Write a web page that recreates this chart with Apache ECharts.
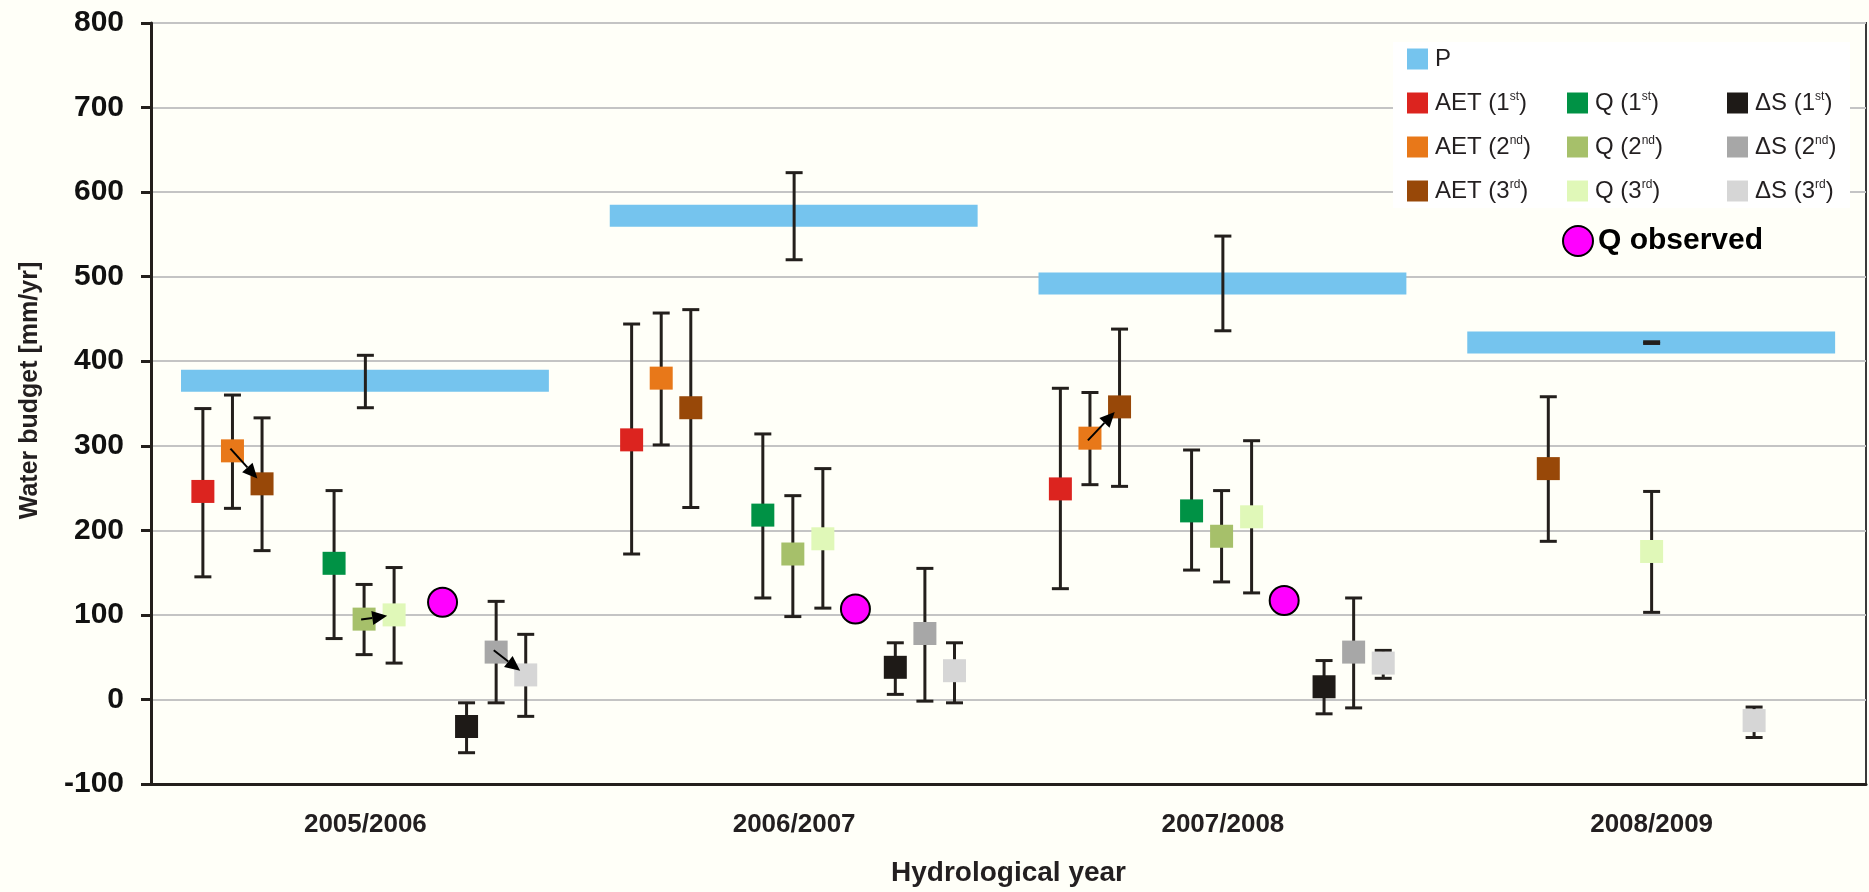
<!DOCTYPE html>
<html>
<head>
<meta charset="utf-8">
<title>Water budget per hydrological year</title>
<script src="https://cdn.jsdelivr.net/npm/echarts@6/dist/echarts.min.js"></script>
<style>
  html, body { margin: 0; padding: 0; background: #fffff8; }
  #chart { width: 1869px; height: 892px; }
</style>
</head>
<body>
<div id="chart"></div>
<script>
const years = ["2005/2006", "2006/2007", "2007/2008", "2008/2009"];

// P (precipitation)
const pValue = [377, 572, 492, 422];
const pLow = [345, 520, 436, 421];
const pHigh = [407, 623, 548, 423];

// AET
const aet1 = [246, 307, 249, null];
const aet1Low = [145, 172, 131, null];
const aet1High = [344, 444, 368, null];
const aet2 = [294, 380, 309, null];
const aet2Low = [226, 301, 254, null];
const aet2High = [360, 457, 363, null];
const aet3 = [255, 345, 346, 273];
const aet3Low = [176, 227, 252, 187];
const aet3High = [333, 461, 438, 358];

// Q
const q1 = [161, 218, 223, null];
const q1Low = [72, 120, 153, null];
const q1High = [247, 314, 295, null];
const q2 = [95, 172, 193, null];
const q2Low = [53, 98, 139, null];
const q2High = [136, 241, 247, null];
const q3 = [100, 190, 216, 175];
const q3Low = [43, 108, 126, 103];
const q3High = [156, 273, 306, 246];
const qObserved = [115, 107, 117, null];

// delta S
const ds1 = [-32, 38, 15, null];
const ds1Low = [-63, 6, -17, null];
const ds1High = [-4, 67, 46, null];
const ds2 = [56, 78, 56, null];
const ds2Low = [-4, -2, -10, null];
const ds2High = [116, 155, 120, null];
const ds3 = [29, 34, 43, -25];
const ds3Low = [-20, -4, 25, -45];
const ds3High = [77, 67, 58, -9];

// which 2nd -> 3rd change is marked with an arrow
const arrows = [
  [0, "AET (2nd)", "AET (3rd)"],
  [0, "Q (2nd)", "Q (3rd)"],
  [0, "ΔS (2nd)", "ΔS (3rd)"],
  [2, "AET (2nd)", "AET (3rd)"]
];

// position of each marker inside a year band (0 = left edge, 1 = right edge)
const slot = {
  "AET (1st)": 0.121, "AET (2nd)": 0.19, "AET (3rd)": 0.259,
  "Q (1st)": 0.427, "Q (2nd)": 0.497, "Q (3rd)": 0.567,
  "Q observed": 0.643,
  "ΔS (1st)": 0.736, "ΔS (2nd)": 0.805, "ΔS (3rd)": 0.874
};
const slotOverride = {
  "Q observed": { 0: 0.68 },
  "Q (3rd)": { 3: 0.5 },
  "ΔS (3rd)": { 3: 0.739 }
};

const markers = [
  { name: "AET (1st)", color: "#dc241f", v: aet1, lo: aet1Low, hi: aet1High },
  { name: "AET (2nd)", color: "#e87819", v: aet2, lo: aet2Low, hi: aet2High },
  { name: "AET (3rd)", color: "#984808", v: aet3, lo: aet3Low, hi: aet3High },
  { name: "Q (1st)", color: "#009245", v: q1, lo: q1Low, hi: q1High },
  { name: "Q (2nd)", color: "#a6c06a", v: q2, lo: q2Low, hi: q2High },
  { name: "Q (3rd)", color: "#e0f8b8", v: q3, lo: q3Low, hi: q3High },
  { name: "ΔS (1st)", color: "#1e1a17", v: ds1, lo: ds1Low, hi: ds1High },
  { name: "ΔS (2nd)", color: "#a7a7a7", v: ds2, lo: ds2Low, hi: ds2High },
  { name: "ΔS (3rd)", color: "#d6d6d6", v: ds3, lo: ds3Low, hi: ds3High }
];

const ERR = "#231f1c";
const SQ = 23;
const CAP = 17;

function slotOf(name, yi) {
  const o = slotOverride[name];
  if (o && o[yi] != null) return o[yi];
  return slot[name];
}

function toData(v, lo, hi) {
  const out = [];
  v.forEach((val, i) => {
    if (val == null) return;
    out.push(lo ? [i, val, lo[i], hi[i]] : [i, val]);
  });
  return out;
}

function bandX(api, yi, val, offset) {
  const c = api.coord([yi, val]);
  const bw = api.size([1, 0])[0];
  return [c[0] + (offset - 0.5) * bw, c[1]];
}

function errorBar(x, yLo, yHi) {
  return [
    { type: "line", shape: { x1: x, y1: yLo, x2: x, y2: yHi }, style: { stroke: ERR, lineWidth: 3 } },
    { type: "line", shape: { x1: x - CAP / 2, y1: yLo, x2: x + CAP / 2, y2: yLo }, style: { stroke: ERR, lineWidth: 3 } },
    { type: "line", shape: { x1: x - CAP / 2, y1: yHi, x2: x + CAP / 2, y2: yHi }, style: { stroke: ERR, lineWidth: 3 } }
  ];
}

function renderMarker(params, api) {
  const yi = api.value(0);
  const p = bandX(api, yi, api.value(1), slotOf(params.seriesName, yi));
  const yLo = api.coord([yi, api.value(2)])[1];
  const yHi = api.coord([yi, api.value(3)])[1];
  const children = errorBar(p[0], yLo, yHi);
  children.push({
    type: "rect",
    shape: { x: p[0] - SQ / 2, y: p[1] - SQ / 2, width: SQ, height: SQ },
    style: { fill: api.visual("color") }
  });
  return { type: "group", children: children };
}

function renderP(params, api) {
  const yi = api.value(0);
  const left = bandX(api, yi, api.value(1), 0.07);
  const right = bandX(api, yi, api.value(1), 0.928);
  const mid = bandX(api, yi, api.value(1), 0.5);
  const yLo = api.coord([yi, api.value(2)])[1];
  const yHi = api.coord([yi, api.value(3)])[1];
  const children = [{
    type: "rect",
    shape: { x: left[0], y: left[1] - 11, width: right[0] - left[0], height: 22 },
    style: { fill: "#75c4ee" }
  }];
  return { type: "group", children: children.concat(errorBar(mid[0], yLo, yHi)) };
}

function renderObserved(params, api) {
  const yi = api.value(0);
  const p = bandX(api, yi, api.value(1), slotOf("Q observed", yi));
  return {
    type: "circle",
    shape: { cx: p[0], cy: p[1], r: 14.5 },
    style: { fill: "#ff00ff", stroke: "#000", lineWidth: 2 }
  };
}

const byName = {};
markers.forEach(m => { byName[m.name] = m; });

function renderArrow(params, api) {
  const a = arrows[api.value(2)];
  const yi = a[0];
  const from = byName[a[1]], to = byName[a[2]];
  const p0 = bandX(api, yi, from.v[yi], slotOf(from.name, yi));
  const p1 = bandX(api, yi, to.v[yi], slotOf(to.name, yi));
  const dx = p1[0] - p0[0], dy = p1[1] - p0[1];
  const len = Math.sqrt(dx * dx + dy * dy);
  const ux = dx / len, uy = dy / len;
  const tip = [p1[0] - ux * 7, p1[1] - uy * 7];
  const base = [tip[0] - ux * 15, tip[1] - uy * 15];
  const nx = -uy * 7, ny = ux * 7;
  return {
    type: "group",
    children: [
      { type: "line", shape: { x1: p0[0] - ux * 3, y1: p0[1] - uy * 3, x2: base[0], y2: base[1] }, style: { stroke: "#000", lineWidth: 2 } },
      { type: "polygon", shape: { points: [tip, [base[0] + nx, base[1] + ny], [base[0] - nx, base[1] - ny]] }, style: { fill: "#000" } }
    ]
  };
}

const series = [{
  name: "P",
  type: "custom",
  renderItem: renderP,
  itemStyle: { color: "#75c4ee" },
  encode: { x: 0, y: 1 },
  data: toData(pValue, pLow, pHigh),
  z: 2
}];
markers.forEach(m => {
  series.push({
    name: m.name,
    type: "custom",
    renderItem: renderMarker,
    itemStyle: { color: m.color },
    encode: { x: 0, y: 1 },
    data: toData(m.v, m.lo, m.hi),
    z: 3
  });
});
series.push({
  name: "Q observed",
  type: "custom",
  renderItem: renderObserved,
  itemStyle: { color: "#ff00ff", borderColor: "#000", borderWidth: 2 },
  encode: { x: 0, y: 1 },
  data: toData(qObserved),
  z: 3
});
series.push({
  name: "arrows",
  type: "custom",
  renderItem: renderArrow,
  encode: { x: 0, y: 1 },
  data: arrows.map((a, k) => [a[0], byName[a[1]].v[a[0]], k]),
  z: 4,
  silent: true
});

const FONT = "'Liberation Sans', Arial, sans-serif";

function legendText(name) {
  return name.replace(/\((\d)(st|nd|rd)\)/, "($1{s|$2})");
}

const legendBase = {
  orient: "vertical",
  icon: "rect",
  itemWidth: 21,
  itemHeight: 21,
  itemGap: 20,
  padding: 0,
  selectedMode: false,
  formatter: legendText,
  textStyle: {
    fontFamily: FONT,
    fontSize: 24,
    lineHeight: 24,
    color: "#231f20",
    padding: [0, 0, 0, 2],
    rich: {
      s: { fontFamily: FONT, fontSize: 12, lineHeight: 24, verticalAlign: "top", color: "#231f20" }
    }
  }
};

const chart = echarts.init(document.getElementById("chart"));
chart.setOption({
  backgroundColor: "#fffff8",
  animation: false,
  grid: {
    left: 151, right: 3, top: 23, bottom: 106,
    show: true, borderColor: "#3a3a3a", borderWidth: 2
  },
  graphic: [{
    type: "rect", left: 1393, top: 42, z: 1,
    shape: { width: 457, height: 166 },
    style: { fill: "#ffffff" }
  }],
  legend: [
    Object.assign({}, legendBase, { data: ["P"], left: 1407, top: 47 }),
    Object.assign({}, legendBase, { data: ["AET (1st)", "AET (2nd)", "AET (3rd)"], left: 1407, top: 91 }),
    Object.assign({}, legendBase, { data: ["Q (1st)", "Q (2nd)", "Q (3rd)"], left: 1567, top: 91 }),
    Object.assign({}, legendBase, { data: ["ΔS (1st)", "ΔS (2nd)", "ΔS (3rd)"], left: 1727, top: 91 }),
    Object.assign({}, legendBase, {
      data: [{ name: "Q observed", icon: "circle" }],
      left: 1562, top: 225, itemWidth: 30, itemHeight: 30,
      formatter: "{name}",
      textStyle: { fontFamily: FONT, fontSize: 30, fontWeight: "bold", color: "#000", padding: [0, 0, 0, 0] }
    })
  ],
  xAxis: {
    type: "category",
    data: years,
    boundaryGap: true,
    name: "Hydrological year",
    nameLocation: "middle",
    nameGap: 75,
    nameTextStyle: { fontFamily: FONT, fontSize: 28, fontWeight: "bold", color: "#231f20" },
    axisLine: { onZero: false, lineStyle: { color: "#231f1c", width: 3 } },
    axisTick: { length: 12, lineStyle: { color: "#231f1c", width: 3 } },
    axisLabel: { fontFamily: FONT, fontSize: 26, fontWeight: "bold", color: "#231f20", margin: 28 },
    splitLine: { show: false }
  },
  yAxis: {
    type: "value",
    min: -100,
    max: 800,
    interval: 100,
    name: "Water budget [mm/yr]",
    nameLocation: "middle",
    nameGap: 108,
    nameRotate: 90,
    nameTextStyle: { fontFamily: FONT, fontSize: 25, fontWeight: "bold", color: "#231f20", padding: [0, 0, 0, 26] },
    axisLine: { show: true, lineStyle: { color: "#231f1c", width: 3 } },
    axisTick: { show: true, length: 10, lineStyle: { color: "#231f1c", width: 3 } },
    axisLabel: { fontFamily: FONT, fontSize: 30, fontWeight: "bold", color: "#111", margin: 27 },
    splitLine: { lineStyle: { color: "#c4c4c4", width: 2 } }
  },
  series: series
});
</script>
</body>
</html>
